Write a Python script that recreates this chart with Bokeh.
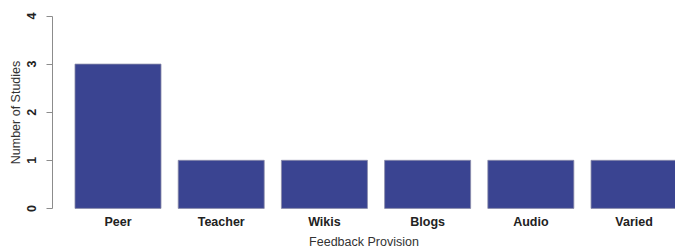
from bokeh.plotting import figure
from bokeh.models import FixedTicker, Range1d, ColumnDataSource
from bokeh.embed import file_html
from bokeh.resources import INLINE

categories = ["Peer", "Teacher", "Wikis", "Blogs", "Audio", "Varied"]
studies = [3, 1, 1, 1, 1, 1]
y_ticks = [0, 1, 2, 3, 4]

# R barplot layout: bar width 1, space 0.2
bar_w = 1.0
space = 0.2
centers = [space + i * (bar_w + space) + bar_w / 2 for i in range(len(categories))]

src = ColumnDataSource(dict(x=centers, top=studies, cat=categories))

p = figure(frame_width=623, frame_height=208, output_backend="svg", toolbar_location=None,
           x_range=Range1d(-0.0616, 7.182), y_range=Range1d(-0.168, 4.156),
           min_border_left=52, min_border_right=0, min_border_top=8, min_border_bottom=0)
p.outline_line_color = None
p.grid.visible = False
p.background_fill_color = "white"
p.border_fill_color = "white"

p.vbar(x="x", top="top", bottom=0, width=bar_w, source=src,
       fill_color="#3a4491", line_color="#8a8ca8", line_width=0.8)

font = "Liberation Sans"

# Y axis
ya = p.yaxis[0]
ya.ticker = FixedTicker(ticks=y_ticks)
ya.bounds = (0, 4)
ya.axis_line_color = "#8c8c8c"
ya.major_tick_line_color = "#8c8c8c"
ya.major_tick_out = 6
ya.major_tick_in = 0
ya.minor_tick_out = 0
ya.minor_tick_in = 0
ya.major_label_orientation = "vertical"
ya.major_label_text_font = font
ya.major_label_text_font_style = "bold"
ya.major_label_text_font_size = "12.5px"
ya.major_label_text_color = "#222222"
ya.major_label_standoff = 10
ya.axis_label = "Number of Studies"
ya.axis_label_text_font = font
ya.axis_label_text_font_style = "normal"
ya.axis_label_text_font_size = "12.5px"
ya.axis_label_text_color = "#333333"
ya.axis_label_standoff = 2

# X axis
xa = p.xaxis[0]
xa.ticker = FixedTicker(ticks=centers)
xa.major_label_overrides = {c: name for c, name in zip(centers, categories)}
xa.axis_line_color = None
xa.major_tick_line_color = None
xa.minor_tick_line_color = None
xa.major_tick_out = 0
xa.major_tick_in = 0
xa.major_label_standoff = -2
xa.major_label_text_font = font
xa.major_label_text_font_style = "bold"
xa.major_label_text_font_size = "12.5px"
xa.major_label_text_color = "#222222"
xa.axis_label = "Feedback Provision"
xa.axis_label_text_font = font
xa.axis_label_text_font_style = "normal"
xa.axis_label_text_font_size = "12.5px"
xa.axis_label_text_color = "#333333"
xa.axis_label_standoff = 3

open("out.html", "w").write(file_html(p, INLINE))
